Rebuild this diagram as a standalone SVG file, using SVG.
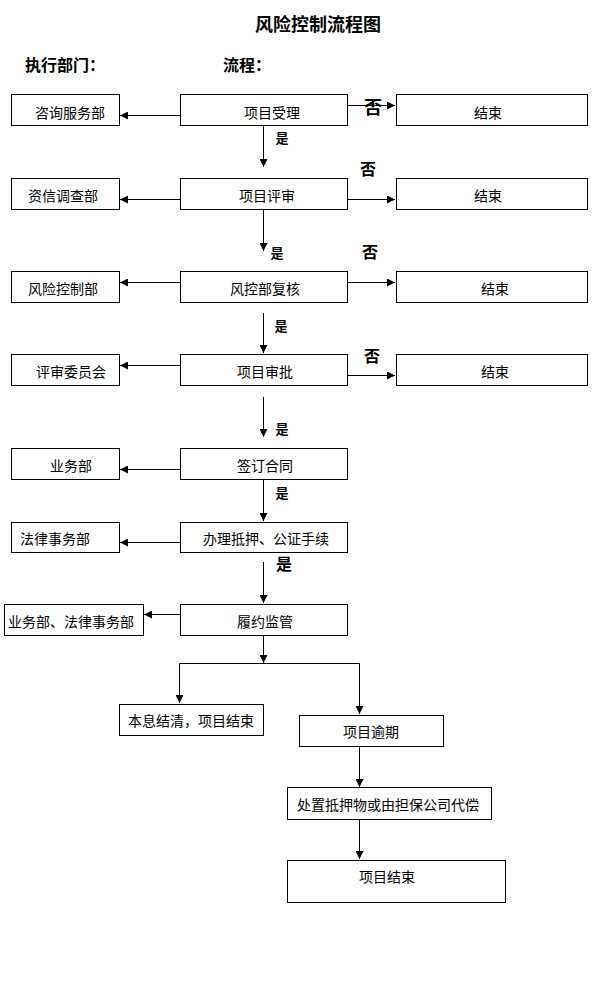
<svg xmlns="http://www.w3.org/2000/svg" width="600" height="1000" viewBox="0 0 600 1000">
<style>
.box{fill:#fff;stroke:#000;stroke-width:1}
.t{font-family:"Noto Sans CJK SC","Liberation Sans",sans-serif;font-size:14px;fill:#000;dominant-baseline:central}
.c{text-anchor:middle}
.h{font-family:"Noto Sans CJK SC","Liberation Sans",sans-serif;font-weight:bold;fill:#000;dominant-baseline:central}
.ln{stroke:#000;stroke-width:1;fill:none}
</style>
<defs>
<marker id="ah" markerWidth="8" markerHeight="8" refX="8" refY="4" orient="auto" markerUnits="userSpaceOnUse">
<path d="M0,0 L8,4 L0,8 z" fill="#000"/>
</marker>
</defs>
<rect width="600" height="1000" fill="#fff"/>
<g id="title">
<text class="h" x="318" y="23" font-size="18" text-anchor="middle">风险控制流程图</text>
<text class="h" x="25" y="64" font-size="16">执行部门：</text>
<text class="h" x="223" y="64" font-size="16">流程：</text>
</g>
<g id="connectors">
<line class="ln" x1="180" y1="115.5" x2="120" y2="115.5" marker-end="url(#ah)"/>
<line class="ln" x1="180" y1="199.5" x2="120" y2="199.5" marker-end="url(#ah)"/>
<line class="ln" x1="180" y1="282.5" x2="120" y2="282.5" marker-end="url(#ah)"/>
<line class="ln" x1="180" y1="365.5" x2="120" y2="365.5" marker-end="url(#ah)"/>
<line class="ln" x1="180" y1="469.5" x2="120" y2="469.5" marker-end="url(#ah)"/>
<line class="ln" x1="180" y1="542.5" x2="120" y2="542.5" marker-end="url(#ah)"/>
<line class="ln" x1="180" y1="614.5" x2="144" y2="614.5" marker-end="url(#ah)"/>
<line class="ln" x1="347" y1="105.5" x2="395" y2="105.5" marker-end="url(#ah)"/>
<line class="ln" x1="347" y1="199.5" x2="395" y2="199.5" marker-end="url(#ah)"/>
<line class="ln" x1="347" y1="282.5" x2="395" y2="282.5" marker-end="url(#ah)"/>
<line class="ln" x1="347" y1="375.5" x2="395" y2="375.5" marker-end="url(#ah)"/>
<line class="ln" x1="263.5" y1="125" x2="263.5" y2="167" marker-end="url(#ah)"/>
<line class="ln" x1="263.5" y1="209" x2="263.5" y2="251" marker-end="url(#ah)"/>
<line class="ln" x1="263.5" y1="313" x2="263.5" y2="353" marker-end="url(#ah)"/>
<line class="ln" x1="263.5" y1="397" x2="263.5" y2="437" marker-end="url(#ah)"/>
<line class="ln" x1="263.5" y1="479" x2="263.5" y2="521" marker-end="url(#ah)"/>
<line class="ln" x1="263.5" y1="562" x2="263.5" y2="603" marker-end="url(#ah)"/>
<line class="ln" x1="263.5" y1="635" x2="263.5" y2="663" marker-end="url(#ah)"/>
<polyline class="ln" points="179.5,703 179.5,663.5 359.5,663.5 359.5,714"/>
<line class="ln" x1="179.5" y1="695" x2="179.5" y2="703" marker-end="url(#ah)"/>
<line class="ln" x1="359.5" y1="705" x2="359.5" y2="714" marker-end="url(#ah)"/>
<line class="ln" x1="359.5" y1="747" x2="359.5" y2="787" marker-end="url(#ah)"/>
<line class="ln" x1="359.5" y1="819" x2="359.5" y2="859" marker-end="url(#ah)"/>
<text class="h" x="282" y="137" font-size="13" text-anchor="middle">是</text>
<text class="h" x="277" y="252" font-size="13" text-anchor="middle">是</text>
<text class="h" x="281" y="325" font-size="13" text-anchor="middle">是</text>
<text class="h" x="282" y="428" font-size="13" text-anchor="middle">是</text>
<text class="h" x="282" y="492" font-size="13" text-anchor="middle">是</text>
<text class="h" x="284" y="563" font-size="16" text-anchor="middle">是</text>
<text class="h" x="373" y="106" font-size="18" text-anchor="middle">否</text>
<text class="h" x="368" y="168" font-size="16" text-anchor="middle">否</text>
<text class="h" x="370" y="251" font-size="16" text-anchor="middle">否</text>
<text class="h" x="372" y="355" font-size="16" text-anchor="middle">否</text>
</g>
<g id="n-zixun"><rect class="box" x="11.5" y="94.5" width="108" height="31"/><text class="t" x="35" y="112">咨询服务部</text></g>
<g id="n-shouli"><rect class="box" x="180.5" y="94.5" width="167" height="31"/><text class="t c" x="272" y="112">项目受理</text></g>
<g id="n-end1"><rect class="box" x="396.5" y="94.5" width="191" height="31"/><text class="t c" x="488" y="112">结束</text></g>
<g id="n-zixin"><rect class="box" x="11.5" y="178.5" width="108" height="31"/><text class="t" x="28" y="195">资信调查部</text></g>
<g id="n-pingshen"><rect class="box" x="180.5" y="178.5" width="167" height="31"/><text class="t c" x="267" y="195">项目评审</text></g>
<g id="n-end2"><rect class="box" x="396.5" y="178.5" width="191" height="31"/><text class="t c" x="488" y="195">结束</text></g>
<g id="n-fengxian"><rect class="box" x="11.5" y="271.5" width="108" height="31"/><text class="t" x="28" y="288">风险控制部</text></g>
<g id="n-fuhe"><rect class="box" x="180.5" y="271.5" width="167" height="31"/><text class="t c" x="265" y="288">风控部复核</text></g>
<g id="n-end3"><rect class="box" x="396.5" y="271.5" width="191" height="31"/><text class="t c" x="495" y="288">结束</text></g>
<g id="n-weiyuan"><rect class="box" x="11.5" y="354.5" width="108" height="31"/><text class="t" x="36" y="371">评审委员会</text></g>
<g id="n-shenpi"><rect class="box" x="180.5" y="354.5" width="167" height="31"/><text class="t c" x="265" y="371">项目审批</text></g>
<g id="n-end4"><rect class="box" x="396.5" y="354.5" width="191" height="31"/><text class="t c" x="495" y="371">结束</text></g>
<g id="n-yewu"><rect class="box" x="11.5" y="448.5" width="108" height="31"/><text class="t" x="50" y="465">业务部</text></g>
<g id="n-hetong"><rect class="box" x="180.5" y="448.5" width="167" height="31"/><text class="t c" x="265" y="465">签订合同</text></g>
<g id="n-falv"><rect class="box" x="11.5" y="522.5" width="108" height="30"/><text class="t" x="20" y="538">法律事务部</text></g>
<g id="n-diya"><rect class="box" x="180.5" y="522.5" width="167" height="30"/><text class="t" x="203" y="538">办理抵押、公证手续</text></g>
<g id="n-yewufalv"><rect class="box" x="4.5" y="604.5" width="139" height="31"/><text class="t" x="8" y="621">业务部、法律事务部</text></g>
<g id="n-jianguan"><rect class="box" x="180.5" y="604.5" width="167" height="31"/><text class="t c" x="265" y="621">履约监管</text></g>
<g id="n-jieqing"><rect class="box" x="119.5" y="704.5" width="144" height="31"/><text class="t" x="128" y="720">本息结清，项目结束</text></g>
<g id="n-yuqi"><rect class="box" x="299.5" y="715.5" width="144" height="31"/><text class="t c" x="371" y="731">项目逾期</text></g>
<g id="n-chuzhi"><rect class="box" x="287.5" y="787.5" width="204" height="32"/><text class="t" x="297" y="804">处置抵押物或由担保公司代偿</text></g>
<g id="n-end"><rect class="box" x="287.5" y="860.5" width="218" height="42"/><text class="t c" x="387" y="876">项目结束</text></g>
</svg>
